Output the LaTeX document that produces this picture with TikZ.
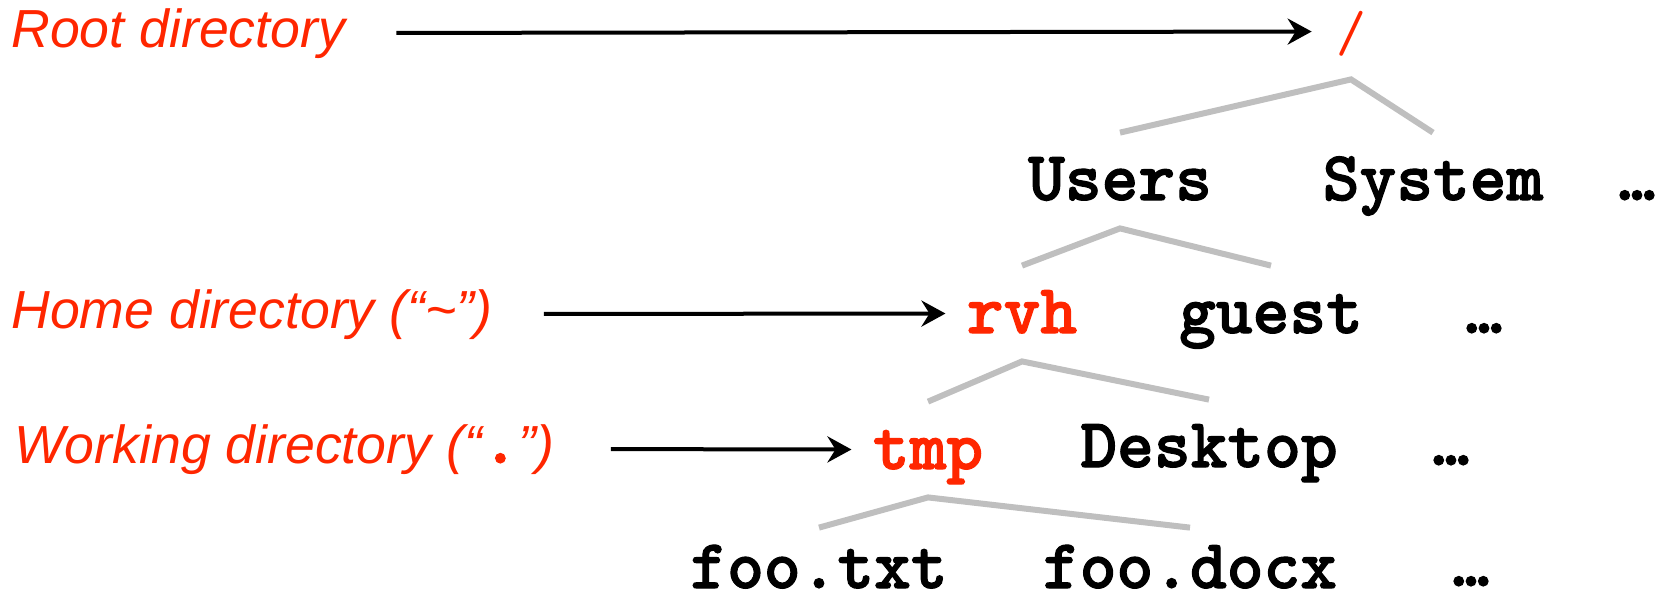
\documentclass[tikz,border=0pt]{standalone}
\usepackage{fontspec}
\usetikzlibrary{arrows.meta}
\newfontfamily\lblfont{Liberation Sans}
\newfontfamily\dirfont{lmmonolt10-bold.otf}[FakeBold=1.6]
\definecolor{dirred}{RGB}{255,38,0}
\definecolor{branchgray}{RGB}{191,191,191}
\tikzset{
  dir/.style={font=\dirfont\fontsize{35}{40}\selectfont, text height=30.5pt, text depth=11pt, inner sep=3pt, anchor=base},
  cur/.style={dir, text=dirred},
  leaf/.style={dir, text height=27pt, text depth=0pt},
  lbl/.style={font=\lblfont\itshape\fontsize{26.8}{31}\selectfont, text=dirred, text height=19pt, text depth=5pt, inner sep=3pt, anchor=base west},
  branch/.style={draw=branchgray, line width=3pt},
  pointer/.style={-{Stealth[length=12pt, width=13pt, inset=4pt]}, line width=2pt, shorten <=22.5pt, shorten >=7.5pt},
}
\begin{document}
\begin{tikzpicture}[x=0.5pt, y=-0.5pt]
  \useasboundingbox (0, 0) rectangle (1669, 602);
  \node (root) at (1351, 51) [cur, font=\ttfamily\fontsize{29}{34}\selectfont] {/};
  \node (users) at (1120, 200) [dir] {Users};
  \node (system) at (1433, 200) [dir] {System};
  \node (rootmore) at (1637, 200) [dir] {…};
  \node (rvh) at (1022, 333) [cur] {rvh};
  \node (guest) at (1271, 333) [dir] {guest};
  \node (usersmore) at (1484, 333) [dir] {…};
  \node (tmp) at (928, 469) [cur] {tmp};
  \node (desktop) at (1209, 467) [dir] {Desktop};
  \node (rvhmore) at (1451, 465) [dir] {…};
  \node (footxt) at (819, 588) [leaf] {foo.txt};
  \node (foodocx) at (1190, 588) [leaf] {foo.docx};
  \node (tmpmore) at (1471, 586) [leaf] {…};
  \draw[branch] (users.north) -- (root.south) -- (system.north);
  \draw[branch] (rvh.north) -- (users.south) -- (guest.north);
  \draw[branch] (tmp.north) -- (rvh.south) -- (desktop.north);
  \draw[branch] (footxt.north) -- (tmp.south) -- (foodocx.north);
  \node (rootlbl) at (5, 47) [lbl] {Root directory};
  \node (homelbl) at (5, 328) [lbl] {Home directory (“\textasciitilde”)};
  \node (worklbl) at (8, 463) [lbl] {Working directory (“{\dirfont\fontsize{35}{40}\selectfont .}”)};
  \draw[pointer, shorten >=9pt] (rootlbl.east) -- (root.west);
  \draw[pointer] (homelbl.east) -- (rvh.west);
  \draw[pointer, shorten <=25pt] (worklbl.east) -- (tmp.west);
\end{tikzpicture}
\end{document}
